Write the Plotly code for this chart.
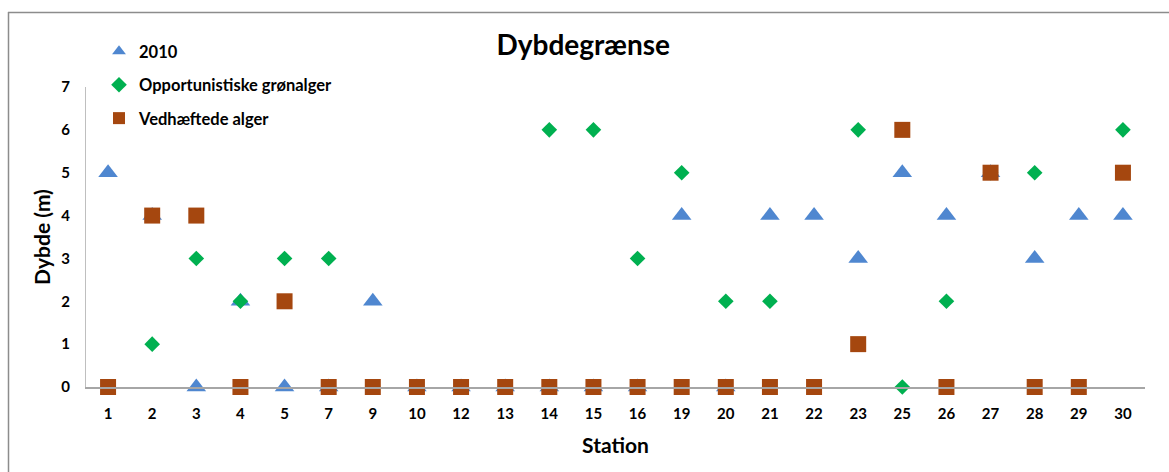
import plotly.graph_objects as go

# Stations along the x axis (categorical)
stations = ["1", "2", "3", "4", "5", "7", "9", "10", "12", "13", "14", "15",
            "16", "19", "20", "21", "22", "23", "25", "26", "27", "28", "29", "30"]

# Depth limit (m) per station for each series
depth_2010 = [5, 4, 0, 2, 0, 0, 2, 0, 0, 0, 0, 0,
              0, 4, 0, 4, 4, 3, 5, 4, 5, 3, 4, 4]
opportunistiske = [0, 1, 3, 2, 3, 3, 0, 0, 0, 0, 6, 6,
                   3, 5, 2, 2, 0, 6, 0, 2, 5, 5, 0, 6]
vedhaeftede = [0, 4, 4, 0, 2, 0, 0, 0, 0, 0, 0, 0,
               0, 0, 0, 0, 0, 1, 6, 0, 5, 0, 0, 5]

W, H = 1169, 472
L, R, T, B = 86, 24, 87, 85
pw, ph = W - L - R, H - T - B


def px_x(x):
    return (x - L) / pw


def px_y(y):
    return (H - B - y) / ph


font = "Lato, Open Sans, sans-serif"

fig = go.Figure()
fig.add_trace(go.Scatter(
    x=stations, y=depth_2010, mode="markers", name="2010",
    legendgroup="a",
    marker=dict(symbol="triangle-up", size=17, color="#4F87D0"),
    cliponaxis=False,
))
fig.add_trace(go.Scatter(
    x=stations, y=opportunistiske, mode="markers",
    name="Opportunistiske grønalger", legendgroup="b",
    marker=dict(symbol="diamond", size=12, color="#00B050"),
    cliponaxis=False,
))
fig.add_trace(go.Scatter(
    x=stations, y=vedhaeftede, mode="markers", name="Vedhæftede alger",
    legendgroup="c",
    marker=dict(symbol="square", size=16, color="#A5470F"),
    cliponaxis=False,
))

fig.update_layout(
    width=W, height=H,
    margin=dict(l=L, r=R, t=T, b=B),
    paper_bgcolor="white", plot_bgcolor="white",
    font=dict(family=font, color="#000000"),
    title=dict(text="<b>Dybdegrænse</b>", x=0.499, xref="container",
               y=1 - 45 / H, yref="container", xanchor="center",
               yanchor="middle", font=dict(size=28, family=font)),
    showlegend=True,
    legend=dict(x=px_x(99), y=px_y(34), xanchor="left", yanchor="top",
                bgcolor="rgba(0,0,0,0)", tracegroupgap=9,
                itemsizing="constant", itemwidth=30,
                font=dict(size=16.5, family=font, weight="bold")),
    xaxis=dict(
        type="category", showgrid=False, zeroline=False,
        showline=True, linecolor="#A6A6A6", linewidth=1.5,
        ticks="", tickfont=dict(size=15, family=font, weight="bold"),
        ticklabelstandoff=12,
        title=dict(text="<b>Station</b>", font=dict(size=21, family=font),
                   standoff=18),
        range=[-0.5, len(stations) - 0.5],
    ),
    yaxis=dict(
        range=[0, 7], dtick=1, showgrid=False, zeroline=False,
        showline=True, linecolor="#BFBFBF", linewidth=1,
        ticks="", tickfont=dict(size=15, family=font, weight="bold"),
        ticklabelstandoff=12,
        title=dict(text="<b>Dybde (m)</b>", font=dict(size=21, family=font),
                   standoff=4),
    ),
    shapes=[
        dict(type="line", xref="paper", yref="paper",
             x0=px_x(8), x1=px_x(W + 5), y0=px_y(12.5), y1=px_y(12.5),
             line=dict(color="#8C8C8C", width=1.5)),
        dict(type="line", xref="paper", yref="paper",
             x0=px_x(8.5), x1=px_x(8.5), y0=px_y(12), y1=px_y(H + 5),
             line=dict(color="#8C8C8C", width=1.5)),
    ],
)

fig.write_html("out.html")
